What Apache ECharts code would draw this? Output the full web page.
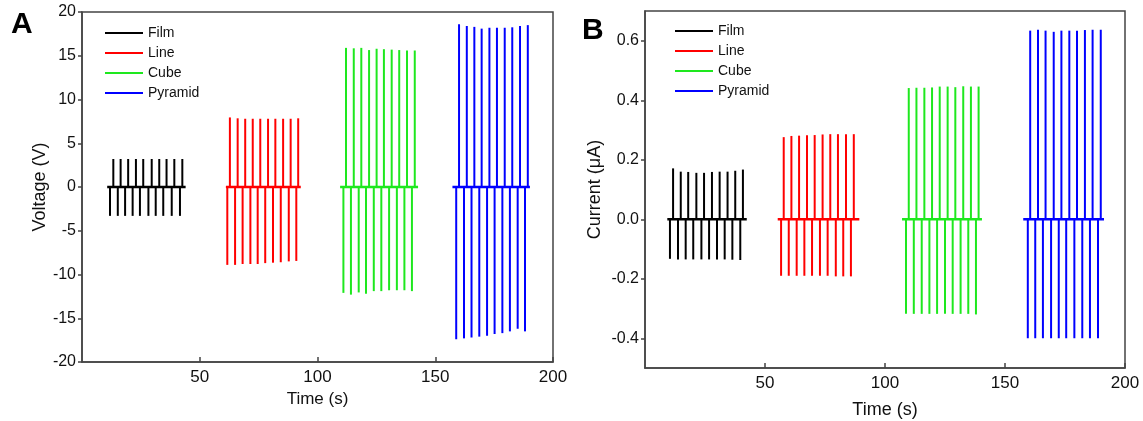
<!DOCTYPE html>
<html>
<head>
<meta charset="utf-8">
<script src="https://cdn.jsdelivr.net/npm/echarts@6/dist/echarts.min.js"></script>
<style>html,body{margin:0;padding:0;background:#fff}#c{width:1143px;height:421px}</style>
</head>
<body>
<div id="c"></div>
<script>
// ---------- Series ----------
const seriesNames = ['Film', 'Line', 'Cube', 'Pyramid'];
const seriesColors = ['#000000', '#ff0000', '#1ee81e', '#0000ff'];

// ---------- Panel A: Voltage (V) ----------
const aFilmPosT = [13.3, 16.4, 19.6, 22.9, 26.0, 29.6, 32.8, 35.9, 39.2, 42.6];
const aFilmPosV = [3.2, 3.2, 3.2, 3.2, 3.2, 3.2, 3.2, 3.2, 3.2, 3.2];
const aFilmNegT = [11.9, 15.2, 18.3, 21.5, 24.6, 28.2, 31.3, 34.5, 38.1, 41.6];
const aFilmNegV = [-3.3, -3.3, -3.3, -3.3, -3.3, -3.3, -3.3, -3.3, -3.3, -3.3];
const aFilmBase = [10.7, 44.0];

const aLinePosT = [62.8, 66.1, 69.3, 72.5, 75.7, 79.0, 82.1, 85.4, 88.6, 91.8];
const aLinePosV = [7.95, 7.85, 7.8, 7.8, 7.8, 7.8, 7.8, 7.8, 7.8, 7.85];
const aLineNegT = [61.7, 65.0, 68.2, 71.5, 74.6, 77.8, 81.1, 84.4, 87.8, 91.0];
const aLineNegV = [-8.9, -8.9, -8.8, -8.8, -8.8, -8.7, -8.65, -8.6, -8.5, -8.45];
const aLineBase = [61.1, 92.9];

const aCubePosT = [112.1, 115.4, 118.6, 121.9, 125.1, 128.2, 131.5, 134.7, 138.0, 141.3];
const aCubePosV = [15.9, 15.85, 15.9, 15.65, 15.8, 15.75, 15.7, 15.65, 15.6, 15.6];
const aCubeNegT = [111.0, 114.2, 117.5, 120.6, 123.9, 127.1, 130.4, 133.7, 136.9, 140.1];
const aCubeNegV = [-12.1, -12.3, -12.05, -12.2, -11.9, -11.9, -11.8, -11.8, -11.8, -11.9];
const aCubeBase = [109.6, 142.7];

const aPyrPosT = [160.1, 163.4, 166.6, 169.7, 173.0, 176.2, 179.5, 182.7, 186.0, 189.3];
const aPyrPosV = [18.6, 18.4, 18.3, 18.1, 18.2, 18.2, 18.2, 18.25, 18.4, 18.5];
const aPyrNegT = [158.9, 162.2, 165.4, 168.7, 172.0, 175.2, 178.5, 181.7, 185.0, 188.1];
const aPyrNegV = [-17.4, -17.3, -17.2, -17.1, -17.0, -16.8, -16.7, -16.5, -16.2, -16.5];
const aPyrBase = [157.3, 190.2];

// ---------- Panel B: Current (μA) ----------
const bFilmPosT = [11.7, 14.9, 18.0, 21.4, 24.6, 27.9, 31.1, 34.4, 37.6, 40.8];
const bFilmPosV = [0.171, 0.160, 0.159, 0.156, 0.156, 0.159, 0.160, 0.160, 0.163, 0.167];
const bFilmNegT = [10.4, 13.75, 16.95, 20.1, 23.5, 26.7, 30.0, 33.2, 36.4, 39.7];
const bFilmNegV = [-0.133, -0.135, -0.135, -0.135, -0.135, -0.135, -0.135, -0.135, -0.136, -0.137];
const bFilmBase = [9.3, 42.4];

const bLinePosT = [57.8, 61.0, 64.2, 67.5, 70.7, 74.0, 77.2, 80.4, 83.75, 87.0];
const bLinePosV = [0.276, 0.280, 0.281, 0.282, 0.283, 0.285, 0.286, 0.286, 0.286, 0.286];
const bLineNegT = [56.7, 59.9, 63.2, 66.4, 69.6, 72.9, 76.1, 79.5, 82.6, 85.8];
const bLineNegV = [-0.19, -0.19, -0.19, -0.19, -0.19, -0.19, -0.19, -0.192, -0.192, -0.192];
const bLineBase = [55.3, 89.3];

const bCubePosT = [109.9, 113.1, 116.4, 119.6, 122.8, 126.1, 129.3, 132.6, 135.8, 139.0];
const bCubePosV = [0.441, 0.442, 0.442, 0.443, 0.446, 0.446, 0.444, 0.447, 0.446, 0.446];
const bCubeNegT = [108.75, 112.0, 115.3, 118.5, 121.7, 125.0, 128.2, 131.5, 134.7, 137.9];
const bCubeNegV = [-0.318, -0.318, -0.318, -0.318, -0.318, -0.318, -0.318, -0.318, -0.318, -0.32];
const bCubeBase = [107.1, 140.4];

const bPyrPosT = [160.5, 163.75, 166.9, 170.3, 173.5, 176.8, 180.0, 183.3, 186.5, 189.9];
const bPyrPosV = [0.634, 0.637, 0.634, 0.630, 0.634, 0.634, 0.634, 0.636, 0.637, 0.637];
const bPyrNegT = [159.5, 162.6, 165.8, 169.2, 172.4, 175.5, 178.9, 182.2, 185.4, 188.75];
const bPyrNegV = [-0.40, -0.40, -0.40, -0.40, -0.40, -0.40, -0.40, -0.40, -0.40, -0.40];
const bPyrBase = [157.6, 191.25];

// ---------- Tick labels ----------
const xTickLabels = [50, 100, 150, 200];
const aYTicks = [-20, -15, -10, -5, 0, 5, 10, 15, 20];
const bYTicks = [-0.4, -0.2, 0.0, 0.2, 0.4, 0.6];

// Spike items [t, value] from the arrays above
function spikes(posT, posV, negT, negV) {
  const ev = [];
  posT.forEach((t, i) => ev.push([t, posV[i]]));
  negT.forEach((t, i) => ev.push([t, negV[i]]));
  return ev;
}
const aSpikes = [
  spikes(aFilmPosT, aFilmPosV, aFilmNegT, aFilmNegV),
  spikes(aLinePosT, aLinePosV, aLineNegT, aLineNegV),
  spikes(aCubePosT, aCubePosV, aCubeNegT, aCubeNegV),
  spikes(aPyrPosT, aPyrPosV, aPyrNegT, aPyrNegV)
];
const aBases = [aFilmBase, aLineBase, aCubeBase, aPyrBase];
const bSpikes = [
  spikes(bFilmPosT, bFilmPosV, bFilmNegT, bFilmNegV),
  spikes(bLinePosT, bLinePosV, bLineNegT, bLineNegV),
  spikes(bCubePosT, bCubePosV, bCubeNegT, bCubeNegV),
  spikes(bPyrPosT, bPyrPosV, bPyrNegT, bPyrNegV)
];
const bBases = [bFilmBase, bLineBase, bCubeBase, bPyrBase];

const FONT = 'Liberation Sans, Arial, sans-serif';
const AXC = '#444';

function xAxis(gridIndex, nameGap, fs) {
  return {
    type: 'value', gridIndex, min: 0, max: 200,
    name: 'Time (s)', nameLocation: 'middle', nameGap,
    nameTextStyle: { fontFamily: FONT, fontSize: fs, color: '#111' },
    axisLine: { show: true, onZero: false, lineStyle: { color: AXC, width: 1.5 } },
    axisTick: { show: true, inside: true, length: 5, lineStyle: { color: AXC, width: 1.5 }, customValues: xTickLabels },
    axisLabel: { fontFamily: FONT, fontSize: 17, color: '#111', margin: 7, customValues: xTickLabels },
    splitLine: { show: false }
  };
}
function yAxis(gridIndex, min, max, ticks, name, nameGap, fmt) {
  return {
    type: 'value', gridIndex, min, max,
    name, nameLocation: 'middle', nameGap,
    nameTextStyle: { fontFamily: FONT, fontSize: 18, color: '#111' },
    axisLine: { show: true, onZero: false, lineStyle: { color: AXC, width: 1.5 } },
    axisTick: { show: true, inside: false, length: 4, lineStyle: { color: AXC, width: 1.5 }, customValues: ticks },
    axisLabel: { fontFamily: FONT, fontSize: 16, color: '#111', margin: 6, customValues: ticks, formatter: fmt },
    splitLine: { show: false }
  };
}

function spikeRender(color) {
  return function (params, api) {
    const t = api.value(0), v = api.value(1);
    const p0 = api.coord([t, 0]);
    const p1 = api.coord([t, v]);
    return {
      type: 'line',
      shape: { x1: p0[0], y1: p0[1], x2: p1[0], y2: p1[1] },
      style: { stroke: color, lineWidth: 2 }
    };
  };
}

const series = [];
function addPanel(idx, spk, bases) {
  seriesNames.forEach((n, i) => {
    series.push({
      name: n, type: 'line', xAxisIndex: idx, yAxisIndex: idx,
      data: [[bases[i][0], 0], [bases[i][1], 0]],
      showSymbol: false, symbol: 'none', silent: true,
      lineStyle: { color: seriesColors[i], width: 2.6 }, itemStyle: { color: seriesColors[i] }
    });
    series.push({
      name: n, type: 'custom', xAxisIndex: idx, yAxisIndex: idx,
      data: spk[i], renderItem: spikeRender(seriesColors[i]), silent: true,
      encode: { x: 0, y: 1 }, itemStyle: { color: seriesColors[i] }
    });
  });
}
addPanel(0, aSpikes, aBases);
addPanel(1, bSpikes, bBases);

function legend(left, top) {
  return {
    data: seriesNames.map(n => ({ name: n, icon: 'rect' })),
    orient: 'vertical', left, top, itemWidth: 38, itemHeight: 2, itemGap: 6,
    textStyle: { fontFamily: FONT, fontSize: 14, color: '#111', lineHeight: 14 },
    selectedMode: false
  };
}

const chart = echarts.init(document.getElementById('c'), null, { renderer: 'canvas' });
chart.setOption({
  animation: false,
  backgroundColor: '#fff',
  grid: [
    { left: 82, top: 12, width: 471, height: 350, show: true, borderColor: AXC, borderWidth: 1.5, backgroundColor: 'transparent', containLabel: false, outerBoundsMode: 'none' },
    { left: 645, top: 11, width: 480, height: 357, show: true, borderColor: AXC, borderWidth: 1.5, backgroundColor: 'transparent', containLabel: false, outerBoundsMode: 'none' }
  ],
  xAxis: [xAxis(0, 28, 17), xAxis(1, 33, 18)],
  yAxis: [
    yAxis(0, -20, 20, aYTicks, 'Voltage (V)', 33, v => String(v)),
    yAxis(1, -0.5, 0.7, bYTicks, 'Current (\u03bcA)', 41, v => v.toFixed(1))
  ],
  legend: [legend(100, 21), legend(670, 19)],
  graphic: [
    { type: 'text', left: 11, top: 10, style: { text: 'A', font: 'bold 30px ' + FONT, fill: '#000' } },
    { type: 'text', left: 582, top: 16, style: { text: 'B', font: 'bold 30px ' + FONT, fill: '#000' } }
  ],
  series
});
</script>
</body>
</html>
